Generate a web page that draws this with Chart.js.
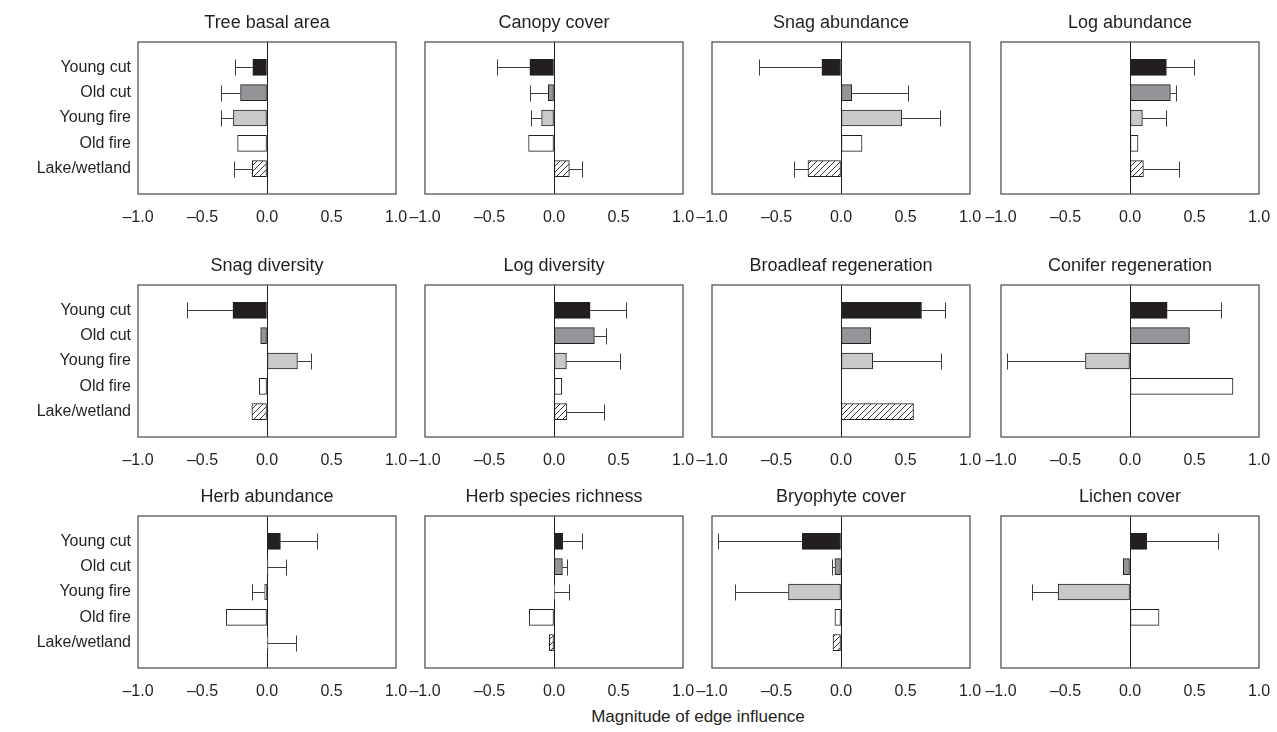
<!DOCTYPE html>
<html>
<head>
<meta charset="utf-8">
<script src="https://cdn.jsdelivr.net/npm/chart.js@4/dist/chart.umd.min.js"></script>
<style>
  body { margin: 0; background: #fff; width: 1277px; height: 732px; position: relative; overflow: hidden; }
  canvas.panel { position: absolute; }
  #xlabel { position: absolute; left: 138px; width: 1120px; top: 707px; text-align: center;
            font: 17px "Liberation Sans", Arial, sans-serif; color: #231f20; }
</style>
</head>
<body>
<div id="xlabel">Magnitude of edge influence</div>
<script>
const habitats = ['Young cut', 'Old cut', 'Young fire', 'Old fire', 'Lake/wetland'];
const panelTitles = ['Tree basal area', 'Canopy cover', 'Snag abundance', 'Log abundance',
  'Snag diversity', 'Log diversity', 'Broadleaf regeneration', 'Conifer regeneration',
  'Herb abundance', 'Herb species richness', 'Bryophyte cover', 'Lichen cover'];
const xTicks = [-1, -0.5, 0, 0.5, 1];

// bar value and the far end of its (one-sided) error bar, one entry per habitat
const treeBasalArea = [-0.11, -0.205, -0.26, -0.228, -0.114];
const treeBasalAreaErr = [-0.246, -0.355, -0.355, null, -0.256];
const canopyCover = [-0.187, -0.044, -0.096, -0.197, 0.119];
const canopyCoverErr = [-0.44, -0.189, -0.179, null, 0.22];
const snagAbundance = [-0.148, 0.083, 0.47, 0.163, -0.256];
const snagAbundanceErr = [-0.632, 0.52, 0.767, null, -0.368];
const logAbundance = [0.282, 0.313, 0.096, 0.062, 0.104];
const logAbundanceErr = [0.497, 0.357, 0.28, null, 0.38];
const snagDiversity = [-0.264, -0.049, 0.236, -0.06, -0.117];
const snagDiversityErr = [-0.619, null, 0.342, null, null];
const logDiversity = [0.28, 0.313, 0.096, 0.06, 0.10];
const logDiversityErr = [0.562, 0.404, 0.513, null, 0.386];
const broadleafRegen = [0.624, 0.23, 0.246, null, 0.562];
const broadleafRegenErr = [0.806, null, 0.772, null, null];
const coniferRegen = [0.288, 0.461, -0.345, 0.798, null];
const coniferRegenErr = [0.705, null, -0.953, null, null];
const herbAbundance = [0.104, 0.008, -0.018, -0.316, 0.008];
const herbAbundanceErr = [0.389, 0.145, -0.114, null, 0.225];
const herbRichness = [0.067, 0.065, 0.005, -0.192, -0.036];
const herbRichnessErr = [0.218, 0.098, 0.119, null, null];
const bryophyteCover = [-0.30, -0.047, -0.407, -0.047, -0.062];
const bryophyteCoverErr = [-0.95, -0.073, -0.82, null, null];
const lichenCover = [0.13, -0.052, -0.557, 0.225, null];
const lichenCoverErr = [0.679, null, -0.756, null, null];

const panelValues = [treeBasalArea, canopyCover, snagAbundance, logAbundance,
  snagDiversity, logDiversity, broadleafRegen, coniferRegen,
  herbAbundance, herbRichness, bryophyteCover, lichenCover];
const panelErrors = [treeBasalAreaErr, canopyCoverErr, snagAbundanceErr, logAbundanceErr,
  snagDiversityErr, logDiversityErr, broadleafRegenErr, coniferRegenErr,
  herbAbundanceErr, herbRichnessErr, bryophyteCoverErr, lichenCoverErr];

const INK = '#231f20';
const FONT = '"Liberation Sans", Arial, sans-serif';

function hatchPattern() {
  const c = document.createElement('canvas');
  c.width = 6; c.height = 6;
  const g = c.getContext('2d');
  g.fillStyle = '#fff';
  g.fillRect(0, 0, 6, 6);
  g.strokeStyle = INK;
  g.lineWidth = 0.9;
  g.beginPath();
  g.moveTo(0, 6); g.lineTo(6, 0);
  g.moveTo(-3, 3); g.lineTo(3, -3);
  g.moveTo(3, 9); g.lineTo(9, 3);
  g.stroke();
  return g.createPattern(c, 'repeat');
}
const fills = [INK, '#939598', '#c8c9cb', '#ffffff', hatchPattern()];

// plot area frame + error bars
const framePlugin = {
  id: 'frame',
  afterDatasetsDraw(chart) {
    const { ctx, chartArea: a, scales: { x, y } } = chart;
    const errs = chart.options.plugins.frame.errors;
    const vals = chart.options.plugins.frame.values;
    ctx.save();
    ctx.strokeStyle = '#3c3c3c';
    ctx.lineWidth = 1;
    errs.forEach((e, i) => {
      if (e == null) return;
      const py = Math.round(y.getPixelForValue(i)) + 0.5;
      const x0 = x.getPixelForValue(vals[i] || 0);
      const x1 = Math.round(x.getPixelForValue(e)) + 0.5;
      ctx.beginPath();
      ctx.moveTo(x0, py); ctx.lineTo(x1, py);
      ctx.moveTo(x1, py - 8); ctx.lineTo(x1, py + 8);
      ctx.stroke();
    });
    ctx.strokeStyle = '#555';
    ctx.lineWidth = 1.3;
    ctx.strokeRect(a.left, a.top, a.right - a.left, a.bottom - a.top);
    ctx.restore();
  }
};

const colLeft = [138, 425, 712, 1001];
const rowTop = [42, 285, 516];
const plotW = 258, plotH = 152;
const TOP = 32, BOTTOM = 30, RIGHT = 32;

panelTitles.forEach((title, p) => {
  const r = Math.floor(p / 4), c = p % 4;
  const M = c === 0 ? 138 : 32;
  const cv = document.createElement('canvas');
  cv.className = 'panel';
  cv.width = M + plotW + RIGHT;
  cv.height = TOP + plotH + BOTTOM;
  cv.style.left = (colLeft[c] - M) + 'px';
  cv.style.top = (rowTop[r] - TOP) + 'px';
  document.body.appendChild(cv);

  const vals = panelValues[p];
  new Chart(cv, {
    type: 'bar',
    data: {
      datasets: [{
        data: vals.map((v, i) => ({ x: v, y: i })),
        backgroundColor: fills,
        borderColor: INK,
        borderWidth: 1,
        borderSkipped: false,
        barThickness: 16
      }]
    },
    options: {
      indexAxis: 'y',
      responsive: false,
      animation: false,
      devicePixelRatio: 1,
      layout: { padding: { top: 4, right: RIGHT, bottom: 0, left: 0 } },
      plugins: {
        legend: { display: false },
        tooltip: { enabled: false },
        title: {
          display: true, text: title, fullSize: false, color: INK,
          font: { family: FONT, size: 18, weight: 'normal', lineHeight: 1 },
          padding: { top: 0, bottom: 10 }
        },
        frame: { values: vals, errors: panelErrors[p] }
      },
      scales: {
        x: {
          type: 'linear', min: -1, max: 1,
          afterBuildTicks: s => { s.ticks = xTicks.map(v => ({ value: v })); },
          afterFit: s => { s.height = BOTTOM; },
          ticks: {
            color: INK, padding: 14, maxRotation: 0,
            font: { family: FONT, size: 16 },
            callback: v => (v < 0 ? '\u2013' : '') + Math.abs(v).toFixed(1)
          },
          grid: {
            drawTicks: false, lineWidth: 1,
            color: ctx => (ctx.tick && ctx.tick.value === 0) ? INK : 'rgba(0,0,0,0)'
          },
          border: { display: false }
        },
        y: {
          type: 'linear', min: -1, max: 5, reverse: true, offset: false,
          afterBuildTicks: s => { s.ticks = habitats.map((_, i) => ({ value: i })); },
          afterFit: s => { s.width = M; },
          ticks: {
            color: INK, padding: 7,
            font: { family: FONT, size: 16 },
            callback: v => c === 0 ? habitats[v] : ''
          },
          grid: { display: false, drawTicks: false, offset: false },
          border: { display: false }
        }
      }
    },
    plugins: [framePlugin]
  });
});
</script>
</body>
</html>
